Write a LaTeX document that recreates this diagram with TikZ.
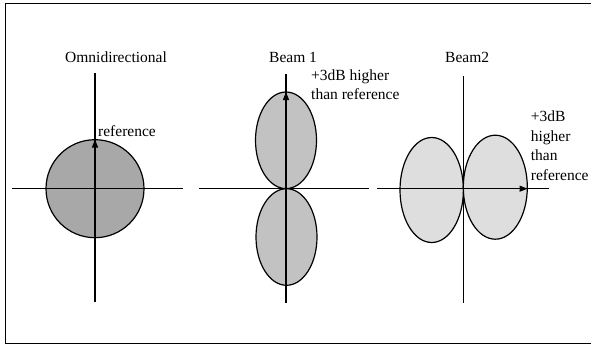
\documentclass[tikz,border=0pt]{standalone}
\usepackage{fontspec}
\setmainfont{Liberation Serif}
\usetikzlibrary{arrows.meta}
\definecolor{omnifill}{gray}{0.66}
\definecolor{beamonefill}{gray}{0.76}
\definecolor{beamtwofill}{gray}{0.87}
\tikzset{
    axis/.style={line width=1.2pt},
    lobe/.style={draw, line width=1.2pt},
    gain/.style={-{Triangle[length=8pt,width=6pt]}, line width=1.2pt},
    plaintext/.style={font=\fontsize{15.5}{19.5}\selectfont, inner sep=0pt, align=left},
}

\begin{document}
\begin{tikzpicture}[x=1pt,y=-1pt]
    \useasboundingbox (0,0) rectangle (591,345);
    \draw[line width=1pt] (591,4) -- (5,4) -- (5,343) -- (591,343);

    \coordinate (omni) at (95,188.7);
    \coordinate (omnitop) at (95,139.5);
    \filldraw[lobe, fill=omnifill] (omni) circle [radius=49];
    \draw[axis] (12,188.7) -- (183,188.7);
    \draw[axis] (95,73) -- (95,302);
    \draw[gain] (omni) -- (omnitop);
    \node[plaintext, anchor=base] (omnititle) at (116,63) {Omnidirectional};
    \node[plaintext, anchor=base west] (omniref) at (98,136) {reference};

    \coordinate (beamone) at (286,188.7);
    \coordinate (beamonetop) at (286,92);
    \filldraw[lobe, fill=beamonefill] (286,140.3) ellipse [x radius=30.5, y radius=48.3];
    \filldraw[lobe, fill=beamonefill] (286.5,237) ellipse [x radius=30.5, y radius=48.3];
    \draw[axis] (199,188.7) -- (369,188.7);
    \draw[axis] (286,74) -- (286,303);
    \draw[gain] (beamone) -- (beamonetop);
    \node[plaintext, anchor=base west] (beamonetitle) at (269,63) {Beam 1};
    \node[plaintext, anchor=north west] (beamonegain) at (311,69.5) {+3dB higher\\than reference};

    \coordinate (beamtwo) at (463.3,188.7);
    \coordinate (beamtworight) at (527.5,188.7);
    \filldraw[lobe, fill=beamtwofill] (431.7,190) ellipse [x radius=31.7, y radius=52.5];
    \filldraw[lobe, fill=beamtwofill] (495.3,187.2) ellipse [x radius=32, y radius=52];
    \draw[axis] (377,188.7) -- (549,188.7);
    \draw[axis] (463.3,76) -- (463.3,303);
    \draw[gain] (beamtwo) -- (beamtworight);
    \node[plaintext, anchor=base west] (beamtwotitle) at (445,63) {Beam2};
    \node[plaintext, anchor=north west] (beamtwogain) at (530.7,111) {+3dB\\higher\\than\\reference};
\end{tikzpicture}
\end{document}
